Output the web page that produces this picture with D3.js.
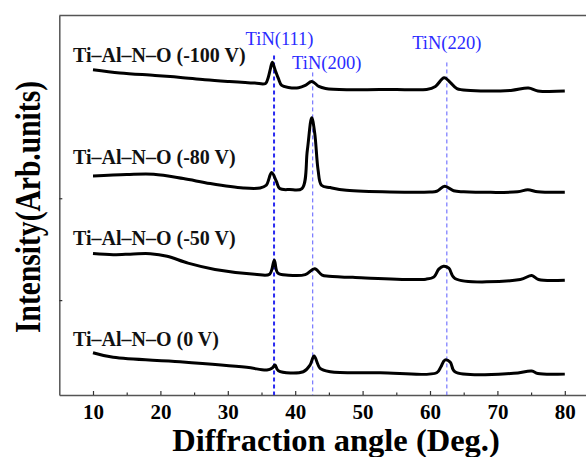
<!DOCTYPE html>
<html><head><meta charset="utf-8">
<script src="https://cdn.jsdelivr.net/npm/d3@7"></script>
<style>body{margin:0;background:#fff}svg{display:block}</style>
</head><body>
<script>
// ---- data (angle in degrees, intensity in arbitrary stacked units) ----
const seriesNames = ["Ti\u2013Al\u2013N\u2013O (-100 V)", "Ti\u2013Al\u2013N\u2013O (-80 V)", "Ti\u2013Al\u2013N\u2013O (-50 V)", "Ti\u2013Al\u2013N\u2013O (0 V)"];

const angle100 = [10, 14, 19.2, 23, 26.6, 30, 34, 35.6, 36.0, 36.3, 36.6, 37.0, 37.5, 38, 39, 40.5, 41.5, 42.45, 43.5, 44.5, 48, 55, 59.5, 60.8, 62.1, 63, 64, 66, 72, 74.6, 76, 80];
const int100   = [325.7, 322.5, 320, 318, 315.7, 314, 312.3, 312, 318, 326, 333.3, 326, 317, 310, 308, 307.7, 310, 314, 309, 307, 305.7, 306, 306, 309, 317.7, 313, 306.7, 305, 305, 307.3, 304.5, 304.3];

const angle80 = [10, 15, 19, 23.4, 27.4, 32.3, 34.8, 35.7, 36.5, 37.2, 37.7, 39.2, 41, 41.8, 42.45, 42.9, 43.4, 43.9, 45.2, 47.6, 60, 61, 62.2, 63.5, 65, 73, 74.5, 76, 80];
const int80   = [219.3, 220.7, 221, 216.7, 211.7, 207.3, 207.3, 210, 222.7, 214, 206.7, 205.7, 206.7, 245, 277.7, 262, 225, 210, 207.7, 205, 203.3, 204, 209, 204.5, 203.5, 203.5, 205.5, 203.5, 203];

const angle50 = [10, 13, 16, 18.5, 21, 24.1, 28.1, 34, 36.2, 36.9, 37.4, 39, 41.5, 42.9, 44, 45, 48.9, 59.4, 60.6, 61.3, 62, 62.8, 63.7, 73.4, 75.1, 76.1, 80];
const int50   = [141.7, 140.5, 141.3, 141.5, 139, 132, 125.7, 121, 121, 135, 122.3, 120, 120.5, 126.3, 120, 119, 117.7, 116, 118.3, 126, 129, 127, 116.7, 115.7, 119.7, 115.7, 115];

const angle0 = [10, 13, 22.9, 32.8, 35.8, 36.6, 37, 37.5, 41.2, 42.2, 42.8, 43.7, 45.2, 52.6, 61, 61.6, 62.2, 63, 63.7, 72.4, 75.1, 76, 80];
const int0   = [42.3, 37.7, 33.3, 27.7, 25, 27, 30, 24.3, 23.3, 30, 39, 26.7, 23.3, 22.3, 22.3, 28, 35, 33, 23.3, 21.7, 24, 21.5, 21];

const peakLabels = ["TiN(111)", "TiN(200)", "TiN(220)"];
const peakAngles = [36.86, 42.6, 62.5];

const xMajorTicks = [10, 20, 30, 40, 50, 60, 70, 80];
const xMinorTicks = [15, 25, 35, 45, 55, 65, 75, 85];
const yTicks = [95, 197];
const xTitle = "Diffraction angle (Deg.)";
const yTitle = "Intensity(Arb.units)";

// ---- layout ----
const W = 586, H = 457;
const svg = d3.select("body").append("svg").attr("width", W).attr("height", H);
const x = d3.scaleLinear().domain([5, 85]).range([59.3, 598.5]);
const y = d3.scaleLinear().domain([0, 380]).range([395, 15.5]);
const serif = "'Liberation Serif','Times New Roman',serif";

// frame top
svg.append("line").attr("x1", x(5)).attr("x2", x(85)).attr("y1", y(380)).attr("y2", y(380))
  .attr("stroke", "#555").attr("stroke-width", 1.5);

// x axis
const gx = svg.append("g").attr("transform", `translate(0,${y(0)})`);
gx.call(d3.axisBottom(x).tickValues(xMajorTicks).tickSize(-4).tickSizeOuter(0).tickFormat(d3.format("d")));
gx.select(".domain").attr("stroke", "#555").attr("stroke-width", 1.5);
gx.selectAll(".tick line").attr("stroke", "#333").attr("stroke-width", 1.2);
gx.selectAll(".tick text").attr("y", 24).attr("dy", 0)
  .attr("font-family", serif).attr("font-weight", "bold").attr("font-size", 21).attr("fill", "#000");
const gxm = svg.append("g").attr("transform", `translate(0,${y(0)})`);
gxm.call(d3.axisBottom(x).tickValues(xMinorTicks).tickSize(-2.5).tickSizeOuter(0).tickFormat(""));
gxm.select(".domain").remove();
gxm.selectAll(".tick line").attr("stroke", "#333").attr("stroke-width", 1.2);

// y axis
const gy = svg.append("g").attr("transform", `translate(${x(5)},0)`);
gy.call(d3.axisLeft(y).tickValues(yTicks).tickSize(-3).tickSizeOuter(0).tickFormat(""));
gy.select(".domain").attr("stroke", "#555").attr("stroke-width", 1.5);
gy.selectAll(".tick line").attr("stroke", "#333").attr("stroke-width", 1.2);

// peak reference lines
const lineTops = [340, 323, 333];
const lineStyles = [{c: "#2a2af0", w: 2}, {c: "#5a5aff", w: 1}, {c: "#5a5aff", w: 1}];
peakAngles.forEach((a, i) => {
  svg.append("line").attr("x1", x(a)).attr("x2", x(a)).attr("y1", y(lineTops[i])).attr("y2", y(0))
    .attr("stroke", lineStyles[i].c).attr("stroke-width", lineStyles[i].w).attr("stroke-dasharray", "4,3");
});
const labelPos = [{dx: 5.5, b: 45}, {dx: 14, b: 69}, {dx: 0, b: 49}];
peakLabels.forEach((t, i) => {
  svg.append("text").attr("x", x(peakAngles[i]) + labelPos[i].dx).attr("y", labelPos[i].b)
    .attr("text-anchor", "middle").attr("font-family", serif).attr("font-size", 18.5)
    .attr("fill", "#2b2bff").text(t);
});

// curves
const allSeries = [[angle100, int100], [angle80, int80], [angle50, int50], [angle0, int0]];
const line = d3.line().x(d => x(d[0])).y(d => y(d[1])).curve(d3.curveCatmullRom.alpha(0.5));
allSeries.forEach(([a, v]) => {
  const pts = a.map((d, i) => [d, v[i]]);
  svg.append("path").attr("d", line(pts)).attr("fill", "none").attr("stroke", "#000")
    .attr("stroke-width", 3).attr("stroke-linejoin", "round");
});

// series labels
const labelBaselines = [62, 164, 245, 346];
seriesNames.forEach((t, i) => {
  svg.append("text").attr("x", 73).attr("y", labelBaselines[i]).attr("font-family", serif)
    .attr("font-weight", "bold").attr("font-size", 20).attr("fill", "#111").text(t);
});

// axis titles
svg.append("text").attr("x", 336).attr("y", 451).attr("text-anchor", "middle")
  .attr("font-family", serif).attr("font-weight", "bold").attr("font-size", 32.5).attr("fill", "#000").text(xTitle);
svg.append("text").attr("transform", "translate(40,207) rotate(-90)").attr("text-anchor", "middle")
  .attr("font-family", serif).attr("font-weight", "bold").attr("font-size", 36)
  .attr("textLength", 252).attr("lengthAdjust", "spacingAndGlyphs").attr("fill", "#000").text(yTitle);
</script>
</body></html>
